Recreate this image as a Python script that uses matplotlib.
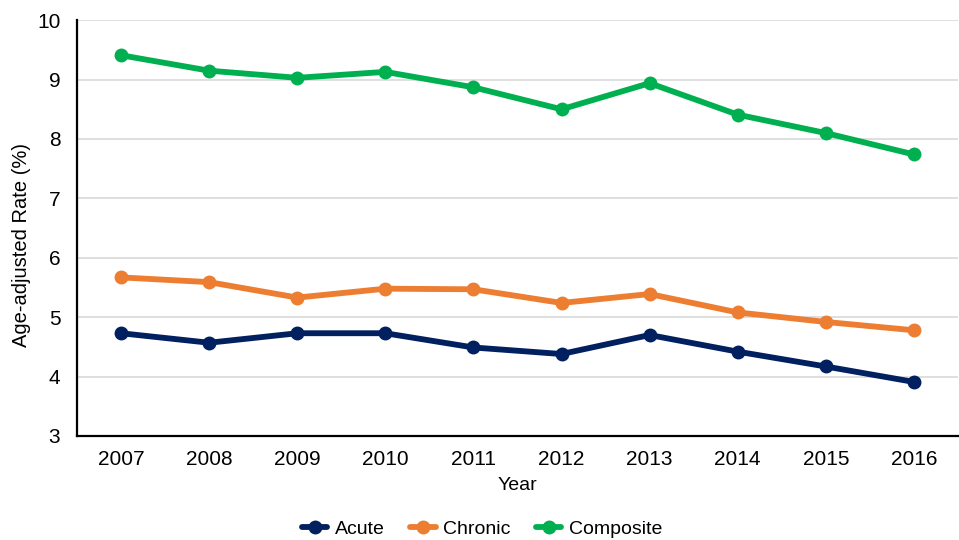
import matplotlib.pyplot as plt
import numpy as np

plt.rcParams['font.family'] = ['Liberation Sans', 'DejaVu Sans']

years = ["2007", "2008", "2009", "2010", "2011", "2012", "2013", "2014", "2015", "2016"]
acute = [4.73, 4.57, 4.73, 4.73, 4.49, 4.38, 4.70, 4.42, 4.17, 3.91]
chronic = [5.67, 5.59, 5.33, 5.48, 5.47, 5.24, 5.39, 5.08, 4.92, 4.78]
composite = [9.41, 9.15, 9.03, 9.13, 8.87, 8.50, 8.94, 8.41, 8.10, 7.74]

series = [("Acute", acute, "#002060"),
          ("Chronic", chronic, "#ED7D31"),
          ("Composite", composite, "#00B050")]

fig = plt.figure(figsize=(9.59, 5.4), dpi=100)
ax = fig.add_axes([0.0803, 0.1926, 0.9186, 0.770])

x = np.arange(len(years))
for name, vals, col in series:
    ax.plot(x, vals, color=col, lw=4.2, marker='o', markersize=9, label=name,
            solid_capstyle='round', zorder=3)

ax.set_xlim(-0.5, len(years) - 0.5)
ax.set_ylim(3, 10)
ax.set_yticks(range(3, 11))
ax.set_xticks(x)
ax.set_xticklabels(years)
ax.tick_params(axis='both', length=0, labelsize=15, colors='#000000')
ax.tick_params(axis='y', pad=12)
ax.tick_params(axis='x', pad=10)
ax.grid(axis='y', color='#D9D9D9', lw=1.2, zorder=0)
ax.set_axisbelow(True)
for s in ['top', 'right']:
    ax.spines[s].set_visible(False)
for s in ['left', 'bottom']:
    ax.spines[s].set_linewidth(1.6)
    ax.spines[s].set_color('#000000')

ax.set_ylabel("Age-adjusted Rate (%)", fontsize=14.5)
ax.yaxis.set_label_coords(-0.052, 0.46)
ax.set_xlabel("Year", fontsize=14, labelpad=6)

ax.legend(loc='upper center', bbox_to_anchor=(0.46, -0.16), ncol=3, frameon=False,
          fontsize=14, handlelength=1.3, columnspacing=1.3, handletextpad=0.4)

fig.savefig("out.png", dpi=100)
